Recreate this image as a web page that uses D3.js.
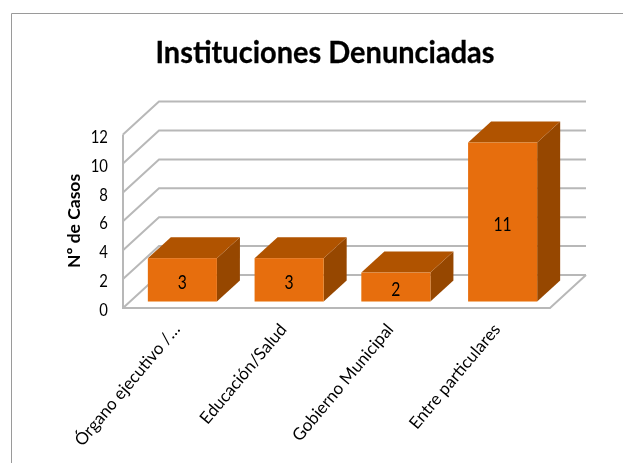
<!DOCTYPE html>
<html>
<head>
<meta charset="utf-8">
<script src="https://cdn.jsdelivr.net/npm/d3@7"></script>
<style>
  html, body { margin: 0; padding: 0; background: #fff; }
  svg { display: block; }
  text { font-family: Lato, "Open Sans", sans-serif; fill: #000; }
</style>
</head>
<body>
<svg id="chart"></svg>
<script>
const categories = ['Órgano ejecutivo /…', 'Educación/Salud', 'Gobierno Municipal', 'Entre particulares'];
const casos = [3, 3, 2, 11];
const yTicks = [0, 2, 4, 6, 8, 10, 12];

const width = 623, height = 463;
const plot = {left: 123, right: 550, top: 134.6, bottom: 308};

// depth of the floor and of the bars, in pixels
const floorDx = 36, floorDy = -33;
const barDx = 23, barDy = -21;
const barInsetX = 6, barInsetY = -6.5;

// Lato is wider than the original font, so numbers get squeezed a bit
const squeeze = 0.85;

const svg = d3.select('#chart').attr('width', width).attr('height', height);

// The reference is a slightly soft scan
svg.append('defs').append('filter')
    .attr('id', 'soft')
  .append('feGaussianBlur')
    .attr('stdDeviation', 0.35);

const root = svg.append('g').attr('filter', 'url(#soft)');

// Chart frame, cut off by the window on the right and at the bottom
root.append('path')
    .attr('d', `M11.5,${height}V13.5H${width}`)
    .attr('fill', 'none')
    .attr('stroke', '#9a9a9a')
    .attr('stroke-width', 1);

const x = d3.scaleBand().domain(categories).range([plot.left, plot.right]).paddingInner(0.353).paddingOuter(0.1765);
const y = d3.scaleLinear().domain([0, 12]).range([plot.bottom, plot.top]);

// Walls: gridlines run along the back and come forward on the left side
const grid = root.append('g').attr('fill', 'none').attr('stroke', '#b8b8b8').attr('stroke-width', 2);
grid.selectAll('.grid')
    .data(yTicks)
  .join('path')
    .attr('class', 'grid')
    .attr('d', d => {
      const yFront = y(d);
      return d3.line()([
        [plot.left, yFront],
        [plot.left + floorDx, yFront + floorDy],
        [plot.right + floorDx, yFront + floorDy]
      ]);
    });
grid.append('path')
    .attr('d', d3.line()([
      [plot.left, y(12)],
      [plot.left, y(0)],
      [plot.right, y(0)],
      [plot.right + floorDx, y(0) + floorDy]
    ]));

// Bars: side, top and front faces
const bars = root.selectAll('.bar')
    .data(categories.map((c, i) => ({c, v: casos[i]})))
  .join('g')
    .attr('class', 'bar')
    .attr('transform', `translate(${barInsetX},${barInsetY})`);

bars.append('path')
    .attr('fill', '#964705')
    .attr('d', d => {
      const r = x(d.c) + x.bandwidth();
      return d3.line()([[r, y(d.v)], [r + barDx, y(d.v) + barDy], [r + barDx, y(0) + barDy], [r, y(0)]]) + 'Z';
    });

bars.append('path')
    .attr('fill', '#b05304')
    .attr('d', d => {
      const l = x(d.c), r = l + x.bandwidth();
      return d3.line()([[l, y(d.v)], [l + barDx, y(d.v) + barDy], [r + barDx, y(d.v) + barDy], [r, y(d.v)]]) + 'Z';
    });

bars.append('rect')
    .attr('fill', '#e76e0a')
    .attr('x', d => x(d.c))
    .attr('y', d => y(d.v))
    .attr('width', x.bandwidth())
    .attr('height', d => y(0) - y(d.v));

bars.append('text')
    .attr('transform', d => `translate(${x(d.c) + x.bandwidth() / 2},${(y(d.v) + y(0)) / 2 + 2.5}) scale(${squeeze},1)`)
    .attr('dy', '.35em')
    .attr('text-anchor', 'middle')
    .style('font-size', '18.5px')
    .text(d => d.v);

// Value axis
const yAxis = root.append('g')
    .attr('transform', `translate(${plot.left},2)`)
    .call(d3.axisLeft(y).tickValues(yTicks).tickSize(0));
yAxis.select('.domain').remove();
yAxis.selectAll('text')
    .attr('x', -15 / squeeze)
    .attr('transform', `scale(${squeeze},1)`)
    .style('font-size', '17.5px')
    .style('font-family', 'Lato, sans-serif');

// Category labels
root.selectAll('.cat-label')
    .data(categories)
  .join('text')
    .attr('class', 'cat-label')
    .attr('text-anchor', 'end')
    .attr('transform', d => `translate(${x(d) + x.bandwidth() / 2},${y(0) + 18}) rotate(-50)`)
    .attr('dy', '.35em')
    .style('font-size', '17px')
    .text(d => d);

root.append('text')
    .attr('transform', 'translate(74,221) rotate(-90)')
    .attr('text-anchor', 'middle')
    .attr('dy', '.35em')
    .style('font-size', '17.5px')
    .style('font-weight', 700)
    .text('Nº de Casos');

root.append('text')
    .attr('transform', `translate(325,63) scale(0.935,1)`)
    .attr('text-anchor', 'middle')
    .attr('stroke', '#000')
    .attr('stroke-width', 0.3)
    .style('font-size', '31px')
    .style('font-weight', 700)
    .text('Instituciones Denunciadas');
</script>
</body>
</html>
